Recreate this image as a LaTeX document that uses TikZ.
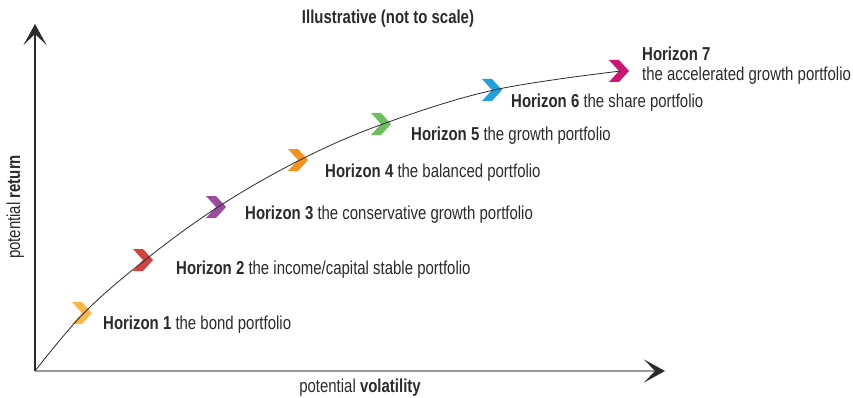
\documentclass[tikz,border=0pt]{standalone}
\usepackage{fontspec}
\setmainfont{Liberation Sans}[FakeStretch=0.8]
\usetikzlibrary{arrows.meta,positioning}
\definecolor{hone}{HTML}{FBB848}
\definecolor{htwo}{HTML}{D2423E}
\definecolor{hthree}{HTML}{9A4B9D}
\definecolor{hfour}{HTML}{F5921E}
\definecolor{hfive}{HTML}{6BBF5C}
\definecolor{hsix}{HTML}{1EA1DC}
\definecolor{hseven}{HTML}{CB1772}
\definecolor{ink}{HTML}{2B2B2B}

\begin{document}
\begin{tikzpicture}[
    x=1pt, y=1pt,
    axis/.style ={
        line width=1.4pt,
        -{Stealth[length=21pt,width=23pt,inset=11pt,color=ink]}
    },
    curve/.style ={
        draw=ink,
        line width=0.8pt
    },
    lbl/.style ={
        anchor=base west,
        inner sep=0pt,
        text=ink,
        font=\fontsize{18.7}{19.5}\selectfont
    }
    ]
    \useasboundingbox (0,0) rectangle (853,397);

    \node[lbl, anchor=base] (title) at (388,373) {\bfseries Illustrative (not to scale)};

    \coordinate (o) at (35,26);
    \coordinate (ytip) at (35,373);
    \coordinate (xtip) at (665,26);
    \draw[axis, draw=ink] (o) -- (ytip);
    \draw[axis, draw=black!40, line width=1.8pt] (o) -- (xtip);

    \node[lbl, anchor=base] (xlab) at (360,5) {potential \textbf{volatility}};
    \node[lbl, anchor=base, rotate=90] (ylab) at (20,190) {potential \textbf{return}};

    \foreach \n/\x/\y/\col in {1/84/84/hone, 2/145/137/htwo, 3/218/190/hthree, 4/300/237/hfour,
                               5/383/273/hfive, 6/494/307/hsix, 7/621/326/hseven}
    {
        \coordinate (h\n) at (\x,\y);
        \fill[\col] (h\n) ++(-12,11) -- ++(10,0) -- ++(10,-11) -- ++(-10,-11) -- ++(-10,0) -- ++(10,11) -- cycle;
    }

    \draw[curve] plot[smooth, tension=0.6] coordinates {(o) (h1) (h2) (h3) (h4) (h5) (h6) (h7)};

    \foreach \n/\x/\y/\txt in {1/103/68/{the bond portfolio}, 2/176/123/{the income/capital stable portfolio},
                               3/245/178/{the conservative growth portfolio}, 4/325/220/{the balanced portfolio},
                               5/411/257/{the growth portfolio}, 6/511/290/{the share portfolio}}
        \node[lbl] (lab\n) at (\x,\y) {\textbf{Horizon \n} \txt};

    \node[lbl, anchor=north west, align=left] (lab7) at (642,350)
        {\textbf{Horizon 7}\\the accelerated growth portfolio};
\end{tikzpicture}
\end{document}
